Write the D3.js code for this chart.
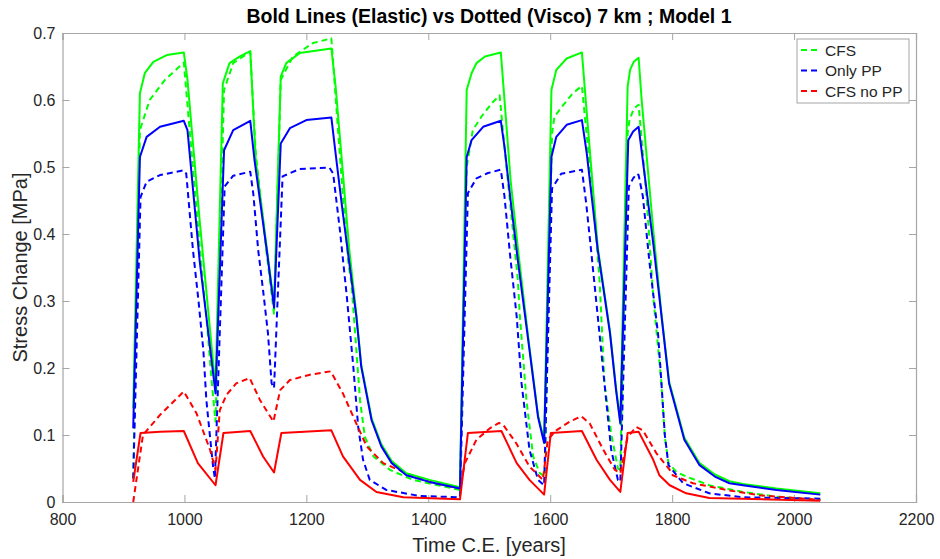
<!DOCTYPE html>
<html>
<head>
<meta charset="utf-8">
<script src="https://cdn.jsdelivr.net/npm/d3@7"></script>
<style>
  body { margin: 0; background: #fff; }
  text { font-family: "Liberation Sans", Arial, Helvetica, sans-serif; fill: #262626; }
</style>
</head>
<body>
<svg id="chart"></svg>
<script>
var width = 940,
    height = 559,
    margin = {top: 33, right: 24, bottom: 57, left: 62.5};

var xTicks = [800, 1000, 1200, 1400, 1600, 1800, 2000, 2200],
    yTicks = [0, 0.1, 0.2, 0.3, 0.4, 0.5, 0.6, 0.7];

var legendNames = ["CFS", "Only PP", "CFS no PP"];

// dotted (visco) runs  [year, MPa]
var cfsVisco = [
  [916,0.035],[927,0.555],[943,0.6],[968,0.63],[999,0.656],[1030,0.33],[1036,0.277],[1045,0.177],[1051,0.12],
  [1065,0.615],[1080,0.655],[1108,0.672],[1117,0.52],[1135,0.37],[1147,0.28],
  [1158,0.63],[1178,0.665],[1211,0.685],[1241,0.692],[1244,0.655],[1252,0.555],[1260,0.456],[1269,0.356],[1274,0.326],
  [1282,0.227],[1288,0.152],[1296,0.097],[1310,0.068],[1337,0.048],[1375,0.033],[1452,0.018],
  [1463,0.5],[1473,0.555],[1487,0.575],[1504,0.595],[1517,0.607],[1525,0.53],[1536,0.43],[1547,0.331],[1550,0.28],
  [1561,0.152],[1572,0.068],[1583,0.043],[1591,0.038],
  [1603,0.55],[1607,0.575],[1621,0.592],[1637,0.61],[1652,0.621],[1659,0.555],[1670,0.456],[1681,0.33],[1689,0.177],
  [1700,0.102],[1711,0.05],[1715,0.048],
  [1727,0.55],[1730,0.57],[1737,0.587],[1745,0.593],[1758,0.456],[1769,0.306],[1782,0.182],[1788,0.097],[1794,0.058],
  [1807,0.045],[1823,0.038],[1861,0.025],[1916,0.015],[1971,0.008],[2043,0.003]
];

var ppVisco = [
  [916,0.035],[928,0.455],[938,0.478],[960,0.488],[999,0.495],[1003,0.49],[1014,0.376],[1023,0.301],[1031,0.227],
  [1036,0.152],[1042,0.097],[1047,0.053],[1050,0.035],
  [1066,0.471],[1080,0.487],[1108,0.493],[1113,0.46],[1121,0.376],[1129,0.316],[1137,0.252],[1143,0.177],[1147,0.17],
  [1161,0.486],[1189,0.497],[1238,0.499],[1244,0.49],[1255,0.406],[1266,0.31],[1277,0.202],[1285,0.112],[1293,0.063],
  [1304,0.033],[1331,0.018],[1386,0.009],[1452,0.007],
  [1465,0.461],[1479,0.483],[1498,0.491],[1519,0.496],[1525,0.456],[1534,0.37],[1545,0.277],[1553,0.177],[1566,0.078],
  [1580,0.033],[1590,0.025],
  [1603,0.468],[1618,0.49],[1652,0.496],[1659,0.446],[1667,0.376],[1678,0.277],[1689,0.177],[1700,0.078],[1711,0.033],[1715,0.03],
  [1729,0.471],[1736,0.483],[1742,0.49],[1745,0.488],[1752,0.456],[1763,0.356],[1777,0.25],[1783,0.17],[1788,0.1],
  [1794,0.055],[1818,0.028],[1861,0.013],[1916,0.007],[2043,0.005]
];

var noPPVisco = [
  [916,0],[932,0.1],[960,0.13],[999,0.165],[1020,0.132],[1042,0.078],[1051,0.048],
  [1058,0.137],[1069,0.16],[1085,0.177],[1107,0.185],[1124,0.152],[1146,0.12],
  [1157,0.167],[1173,0.182],[1206,0.19],[1240,0.195],[1260,0.162],[1282,0.117],[1299,0.083],[1326,0.058],[1364,0.043],
  [1402,0.03],[1452,0.02],
  [1460,0.058],[1479,0.093],[1501,0.11],[1516,0.118],[1523,0.115],[1544,0.088],[1566,0.053],[1588,0.033],
  [1596,0.093],[1610,0.107],[1632,0.12],[1651,0.128],[1665,0.117],[1687,0.078],[1706,0.048],[1715,0.043],
  [1727,0.097],[1741,0.112],[1752,0.107],[1774,0.073],[1796,0.048],[1801,0.04],[1834,0.028],[1889,0.018],[1943,0.01],[2043,0.003]
];

// bold (elastic) runs
var cfsElastic = [
  [916,0.14],[927,0.61],[935,0.64],[949,0.657],[971,0.667],[999,0.671],[1005,0.63],[1025,0.42],[1051,0.17],
  [1063,0.625],[1074,0.655],[1091,0.665],[1108,0.673],[1117,0.51],[1135,0.38],[1147,0.295],
  [1158,0.635],[1167,0.655],[1189,0.67],[1241,0.677],[1248,0.62],[1260,0.49],[1270,0.38],[1282,0.28],[1290,0.205],
  [1307,0.125],[1323,0.086],[1340,0.061],[1364,0.043],[1402,0.033],[1452,0.022],
  [1463,0.615],[1471,0.64],[1479,0.655],[1493,0.665],[1519,0.671],[1525,0.6],[1535,0.48],[1548,0.37],[1566,0.23],
  [1580,0.13],[1590,0.092],
  [1602,0.615],[1610,0.645],[1627,0.662],[1652,0.671],[1660,0.58],[1678,0.38],[1698,0.255],[1708,0.17],[1715,0.12],
  [1727,0.62],[1731,0.645],[1737,0.657],[1745,0.663],[1750,0.6],[1769,0.406],[1782,0.285],[1795,0.18],[1820,0.096],
  [1845,0.058],[1870,0.041],[1894,0.031],[1916,0.027],[1971,0.02],[2043,0.013]
];

var ppElastic = [
  [916,0.11],[927,0.515],[938,0.545],[960,0.56],[999,0.569],[1005,0.555],[1025,0.36],[1051,0.162],
  [1065,0.525],[1080,0.555],[1108,0.569],[1115,0.51],[1135,0.376],[1147,0.29],
  [1158,0.535],[1173,0.558],[1200,0.57],[1241,0.574],[1248,0.52],[1260,0.43],[1270,0.36],[1282,0.277],[1290,0.202],
  [1307,0.122],[1323,0.083],[1340,0.058],[1364,0.04],[1402,0.03],[1452,0.02],
  [1463,0.515],[1471,0.54],[1490,0.56],[1519,0.569],[1525,0.53],[1535,0.45],[1547,0.36],[1566,0.227],[1580,0.127],[1590,0.088],
  [1602,0.515],[1610,0.545],[1627,0.563],[1652,0.57],[1660,0.52],[1678,0.376],[1698,0.252],[1708,0.167],[1715,0.117],
  [1728,0.54],[1736,0.553],[1745,0.56],[1769,0.386],[1782,0.282],[1795,0.177],[1820,0.093],[1845,0.055],[1870,0.038],
  [1894,0.028],[1916,0.025],[1971,0.018],[2043,0.011]
];

var noPPElastic = [
  [916,0.03],[928,0.103],[960,0.105],[999,0.106],[1022,0.058],[1051,0.025],
  [1064,0.103],[1108,0.106],[1129,0.068],[1147,0.044],
  [1159,0.103],[1241,0.107],[1260,0.068],[1288,0.033],[1315,0.015],[1359,0.007],[1452,0.004],
  [1465,0.103],[1520,0.106],[1545,0.058],[1566,0.033],[1590,0.011],
  [1601,0.103],[1652,0.106],[1676,0.063],[1698,0.033],[1715,0.015],
  [1727,0.103],[1745,0.105],[1769,0.063],[1779,0.04],[1796,0.025],[1823,0.013],[1861,0.006],[2043,0.002]
];

var svg = d3.select("#chart").attr("width", width).attr("height", height);

var x = d3.scaleLinear().domain([800, 2200]).range([margin.left, width - margin.right]),
    y = d3.scaleLinear().domain([0, 0.7]).range([height - margin.bottom, margin.top]);

var axisColor = "#a6a6a6",
    tickLen = 7;

var getPath = d3.line()
    .x(d => x(d[0]))
    .y(d => y(d[1]))
    .curve(d3.curveLinear);

// axes, MATLAB style: ticks pointing in, on all four sides
var gx = svg.append("g").attr("transform", "translate(0," + y(0) + ")")
    .call(d3.axisBottom(x).tickValues(xTicks).tickSize(-tickLen).tickPadding(12).tickFormat(d3.format("d")));
var gxTop = svg.append("g").attr("transform", "translate(0," + y(0.7) + ")")
    .call(d3.axisTop(x).tickValues(xTicks).tickSize(-tickLen).tickFormat(""));
var gy = svg.append("g").attr("transform", "translate(" + x(800) + ",0)")
    .call(d3.axisLeft(y).tickValues(yTicks).tickSize(-tickLen).tickPadding(7).tickFormat(d => d === 0 ? "0" : d3.format(".1f")(d)));
var gyRight = svg.append("g").attr("transform", "translate(" + x(2200) + ",0)")
    .call(d3.axisRight(y).tickValues(yTicks).tickSize(-tickLen).tickFormat(""));

[gx, gxTop, gy, gyRight].forEach(function(g) {
    g.select(".domain").attr("stroke", axisColor).attr("stroke-width", 1.2);
    g.selectAll(".tick line").attr("stroke", axisColor).attr("stroke-width", 1);
    g.selectAll(".tick text").attr("fill", "#262626").style("font-size", "16px")
        .style("font-family", "'Liberation Sans', Arial, sans-serif");
});

// lines: dotted first, bold on top
var runs = [
    {data: cfsVisco,    color: "#00ff00", dash: "6,4"},
    {data: ppVisco,     color: "#0000ff", dash: "6,4"},
    {data: noPPVisco,   color: "#ff0000", dash: "6,4"},
    {data: cfsElastic,  color: "#00ff00", dash: null},
    {data: ppElastic,   color: "#0000ff", dash: null},
    {data: noPPElastic, color: "#ff0000", dash: null}
];

runs.forEach(function(r) {
    svg.append("path")
        .attr("d", getPath(r.data))
        .attr("fill", "none")
        .attr("stroke", r.color)
        .attr("stroke-width", 2)
        .attr("stroke-linejoin", "round")
        .attr("stroke-dasharray", r.dash);
});

// title + axis labels
svg.append("text")
    .attr("x", 489).attr("y", 23)
    .attr("text-anchor", "middle")
    .style("font-size", "19.5px").style("font-weight", "bold")
    .style("fill", "#000")
    .text("Bold Lines (Elastic) vs Dotted (Visco) 7 km ; Model 1");

svg.append("text")
    .attr("x", 489).attr("y", 552)
    .attr("text-anchor", "middle")
    .style("font-size", "20px")
    .text("Time C.E. [years]");

svg.append("text")
    .attr("transform", "translate(27," + ((y(0) + y(0.7)) / 2) + ") rotate(-90)")
    .attr("text-anchor", "middle")
    .style("font-size", "20px")
    .text("Stress Change [MPa]");

// legend
var leg = svg.append("g").attr("transform", "translate(797,39)");
leg.append("rect")
    .attr("width", 112).attr("height", 64)
    .attr("fill", "#fff").attr("stroke", axisColor).attr("stroke-width", 1);

legendNames.forEach(function(name, i) {
    var ly = 11 + i * 20.5;
    leg.append("line")
        .attr("x1", 4).attr("x2", 21)
        .attr("y1", ly).attr("y2", ly)
        .attr("stroke", runs[i].color)
        .attr("stroke-width", 2)
        .attr("stroke-dasharray", "6,4");
    leg.append("text")
        .attr("x", 28).attr("y", ly + 5.5)
        .style("font-size", "15.5px")
        .text(name);
});
</script>
</body>
</html>
